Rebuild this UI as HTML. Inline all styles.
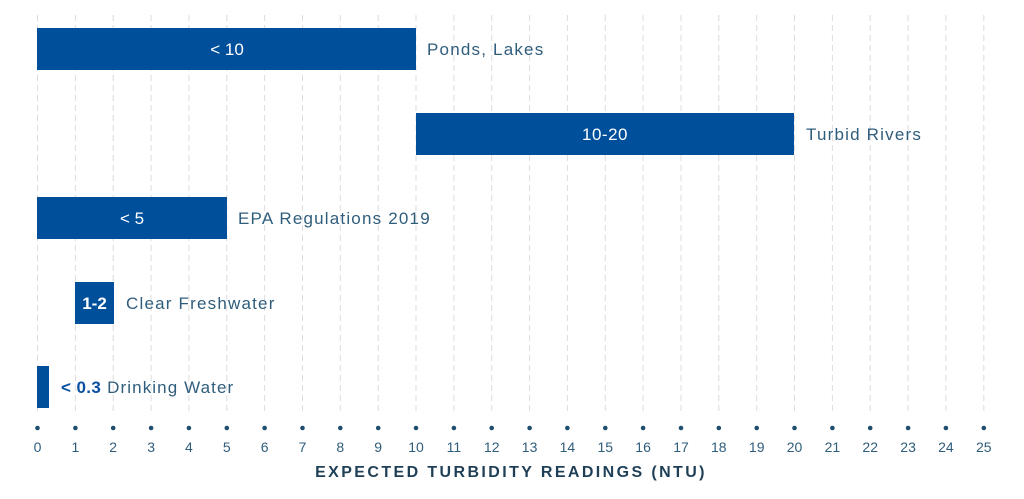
<!DOCTYPE html>
<html><head><style>
html,body{margin:0;padding:0;background:#fff;}
svg{display:block;font-family:"Liberation Sans",sans-serif;}
</style></head><body>
<svg width="1024" height="499" viewBox="0 0 1024 499">
<g stroke="#dcdcdc" stroke-width="1" stroke-dasharray="6,4">
<line x1="37.5" y1="15" x2="37.5" y2="412"/><line x1="75.4" y1="15" x2="75.4" y2="412"/><line x1="113.2" y1="15" x2="113.2" y2="412"/><line x1="151.1" y1="15" x2="151.1" y2="412"/><line x1="188.9" y1="15" x2="188.9" y2="412"/><line x1="226.8" y1="15" x2="226.8" y2="412"/><line x1="264.6" y1="15" x2="264.6" y2="412"/><line x1="302.5" y1="15" x2="302.5" y2="412"/><line x1="340.3" y1="15" x2="340.3" y2="412"/><line x1="378.2" y1="15" x2="378.2" y2="412"/><line x1="416" y1="15" x2="416" y2="412"/><line x1="453.9" y1="15" x2="453.9" y2="412"/><line x1="491.7" y1="15" x2="491.7" y2="412"/><line x1="529.6" y1="15" x2="529.6" y2="412"/><line x1="567.4" y1="15" x2="567.4" y2="412"/><line x1="605.3" y1="15" x2="605.3" y2="412"/><line x1="643.1" y1="15" x2="643.1" y2="412"/><line x1="681" y1="15" x2="681" y2="412"/><line x1="718.8" y1="15" x2="718.8" y2="412"/><line x1="756.7" y1="15" x2="756.7" y2="412"/><line x1="794.5" y1="15" x2="794.5" y2="412"/><line x1="832.4" y1="15" x2="832.4" y2="412"/><line x1="870.2" y1="15" x2="870.2" y2="412"/><line x1="908.1" y1="15" x2="908.1" y2="412"/><line x1="945.9" y1="15" x2="945.9" y2="412"/><line x1="983.8" y1="15" x2="983.8" y2="412"/>
</g>
<g fill="#004f9b">
<rect x="37" y="28" width="379" height="42"/>
<rect x="416" y="113" width="378" height="42"/>
<rect x="37" y="197" width="190" height="42"/>
<rect x="75" y="282" width="39" height="42"/>
<rect x="37" y="366" width="12" height="42"/>
</g>
<g fill="#fff" font-size="17" text-anchor="middle">
<text x="227" y="55">&lt; 10</text>
<text x="605" y="140" letter-spacing="0.5">10-20</text>
<text x="132" y="224">&lt; 5</text>
<text x="94.5" y="309" font-weight="bold">1-2</text>
</g>
<g fill="#2f5d7c" font-size="17" letter-spacing="1.2">
<text x="427" y="55">Ponds, Lakes</text>
<text x="806" y="140">Turbid Rivers</text>
<text x="238" y="224">EPA Regulations 2019</text>
<text x="126" y="309">Clear Freshwater</text>
<text x="61" y="393" letter-spacing="1.1"><tspan fill="#0a4fa0" font-weight="bold" letter-spacing="0.4">&lt; 0.3</tspan> Drinking Water</text>
</g>
<g fill="#1f4e6e">
<circle cx="37.5" cy="428" r="2.3"/><circle cx="75.4" cy="428" r="2.3"/><circle cx="113.2" cy="428" r="2.3"/><circle cx="151.1" cy="428" r="2.3"/><circle cx="188.9" cy="428" r="2.3"/><circle cx="226.8" cy="428" r="2.3"/><circle cx="264.6" cy="428" r="2.3"/><circle cx="302.5" cy="428" r="2.3"/><circle cx="340.3" cy="428" r="2.3"/><circle cx="378.2" cy="428" r="2.3"/><circle cx="416" cy="428" r="2.3"/><circle cx="453.9" cy="428" r="2.3"/><circle cx="491.7" cy="428" r="2.3"/><circle cx="529.6" cy="428" r="2.3"/><circle cx="567.4" cy="428" r="2.3"/><circle cx="605.3" cy="428" r="2.3"/><circle cx="643.1" cy="428" r="2.3"/><circle cx="681" cy="428" r="2.3"/><circle cx="718.8" cy="428" r="2.3"/><circle cx="756.7" cy="428" r="2.3"/><circle cx="794.5" cy="428" r="2.3"/><circle cx="832.4" cy="428" r="2.3"/><circle cx="870.2" cy="428" r="2.3"/><circle cx="908.1" cy="428" r="2.3"/><circle cx="945.9" cy="428" r="2.3"/><circle cx="983.8" cy="428" r="2.3"/>
</g>
<g fill="#2f5d7c" font-size="14" text-anchor="middle">
<text x="37.5" y="452">0</text><text x="75.4" y="452">1</text><text x="113.2" y="452">2</text><text x="151.1" y="452">3</text><text x="188.9" y="452">4</text><text x="226.8" y="452">5</text><text x="264.6" y="452">6</text><text x="302.5" y="452">7</text><text x="340.3" y="452">8</text><text x="378.2" y="452">9</text><text x="416" y="452">10</text><text x="453.9" y="452">11</text><text x="491.7" y="452">12</text><text x="529.6" y="452">13</text><text x="567.4" y="452">14</text><text x="605.3" y="452">15</text><text x="643.1" y="452">16</text><text x="681" y="452">17</text><text x="718.8" y="452">18</text><text x="756.7" y="452">19</text><text x="794.5" y="452">20</text><text x="832.4" y="452">21</text><text x="870.2" y="452">22</text><text x="908.1" y="452">23</text><text x="945.9" y="452">24</text><text x="983.8" y="452">25</text>
</g>
<text x="511" y="477" text-anchor="middle" fill="#1f3f57" font-size="16" font-weight="bold" letter-spacing="2.4">EXPECTED TURBIDITY READINGS (NTU)</text>
</svg>
</body></html>
